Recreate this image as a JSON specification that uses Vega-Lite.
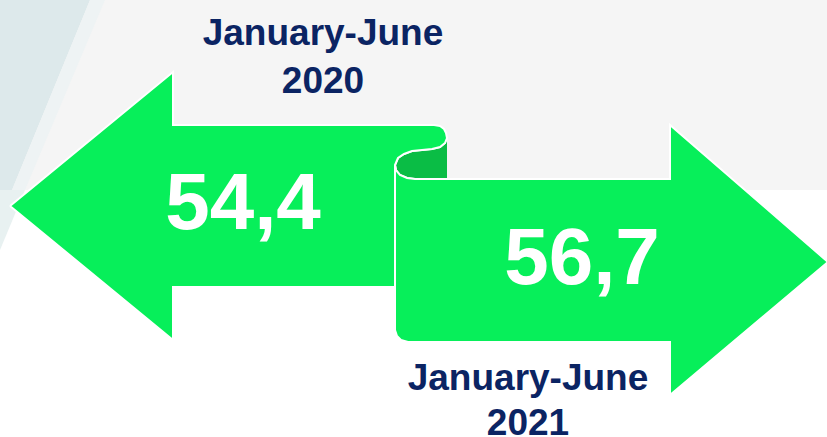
{
  "$schema": "https://vega.github.io/schema/vega-lite/v6.json",
  "width": 827,
  "height": 437,
  "autosize": {"type": "none"},
  "padding": 0,
  "background": "#ffffff",
  "config": {"view": {"stroke": null}},
  "datasets": {
    "shapes": [
      {"shape": "gray", "i": 0, "x": 0, "y": 0},
      {"shape": "gray", "i": 1, "x": 827, "y": 0},
      {"shape": "gray", "i": 2, "x": 827, "y": 190},
      {"shape": "gray", "i": 3, "x": 0, "y": 190},
      {"shape": "blue", "i": 0, "x": 0, "y": 0},
      {"shape": "blue", "i": 1, "x": 90, "y": 0},
      {"shape": "blue", "i": 2, "x": 12, "y": 190},
      {"shape": "blue", "i": 3, "x": 0, "y": 190},
      {"shape": "band", "i": 0, "x": 90, "y": 0},
      {"shape": "band", "i": 1, "x": 105, "y": 0},
      {"shape": "band", "i": 2, "x": 25, "y": 190},
      {"shape": "band", "i": 3, "x": 12, "y": 190},
      {"shape": "bluelow", "i": 0, "x": 0, "y": 190},
      {"shape": "bluelow", "i": 1, "x": 25, "y": 190},
      {"shape": "bluelow", "i": 2, "x": 0, "y": 250},
      {"shape": "fold", "i": 0, "x": 447, "y": 138},
      {"shape": "fold", "i": 1, "x": 445, "y": 143},
      {"shape": "fold", "i": 2, "x": 440, "y": 147},
      {"shape": "fold", "i": 3, "x": 432, "y": 149},
      {"shape": "fold", "i": 4, "x": 422, "y": 150},
      {"shape": "fold", "i": 5, "x": 412, "y": 151},
      {"shape": "fold", "i": 6, "x": 404, "y": 154},
      {"shape": "fold", "i": 7, "x": 398, "y": 158},
      {"shape": "fold", "i": 8, "x": 395, "y": 165},
      {"shape": "fold", "i": 9, "x": 396, "y": 170},
      {"shape": "fold", "i": 10, "x": 400, "y": 175},
      {"shape": "fold", "i": 11, "x": 407, "y": 178},
      {"shape": "fold", "i": 12, "x": 415, "y": 179},
      {"shape": "fold", "i": 13, "x": 447, "y": 179},
      {"shape": "left", "i": 0, "x": 10, "y": 206},
      {"shape": "left", "i": 1, "x": 173, "y": 72},
      {"shape": "left", "i": 2, "x": 173, "y": 125},
      {"shape": "left", "i": 3, "x": 434, "y": 125},
      {"shape": "left", "i": 4, "x": 440, "y": 126},
      {"shape": "left", "i": 5, "x": 444, "y": 129},
      {"shape": "left", "i": 6, "x": 446, "y": 133},
      {"shape": "left", "i": 7, "x": 447, "y": 138},
      {"shape": "left", "i": 8, "x": 445, "y": 143},
      {"shape": "left", "i": 9, "x": 440, "y": 147},
      {"shape": "left", "i": 10, "x": 432, "y": 149},
      {"shape": "left", "i": 11, "x": 422, "y": 150},
      {"shape": "left", "i": 12, "x": 412, "y": 151},
      {"shape": "left", "i": 13, "x": 404, "y": 154},
      {"shape": "left", "i": 14, "x": 398, "y": 158},
      {"shape": "left", "i": 15, "x": 395, "y": 165},
      {"shape": "left", "i": 16, "x": 395, "y": 287},
      {"shape": "left", "i": 17, "x": 173, "y": 287},
      {"shape": "left", "i": 18, "x": 173, "y": 340},
      {"shape": "left", "i": 19, "x": 10, "y": 206},
      {"shape": "right", "i": 0, "x": 395, "y": 165},
      {"shape": "right", "i": 1, "x": 396, "y": 170},
      {"shape": "right", "i": 2, "x": 400, "y": 175},
      {"shape": "right", "i": 3, "x": 407, "y": 178},
      {"shape": "right", "i": 4, "x": 415, "y": 179},
      {"shape": "right", "i": 5, "x": 670, "y": 179},
      {"shape": "right", "i": 6, "x": 670, "y": 125},
      {"shape": "right", "i": 7, "x": 828, "y": 262},
      {"shape": "right", "i": 8, "x": 670, "y": 395},
      {"shape": "right", "i": 9, "x": 670, "y": 342},
      {"shape": "right", "i": 10, "x": 408, "y": 342},
      {"shape": "right", "i": 11, "x": 401, "y": 340},
      {"shape": "right", "i": 12, "x": 397, "y": 336},
      {"shape": "right", "i": 13, "x": 395, "y": 330},
      {"shape": "right", "i": 14, "x": 395, "y": 165}
    ],
    "labels": [
      {"t": "January-June", "x": 323, "y": 45, "kind": "period"},
      {"t": "2020", "x": 323, "y": 93, "kind": "period"},
      {"t": "January-June", "x": 528, "y": 390, "kind": "period"},
      {"t": "2021", "x": 528, "y": 435, "kind": "period"},
      {"t": "54,4", "x": 243, "y": 229, "kind": "value"},
      {"t": "56,7", "x": 582, "y": 284, "kind": "value"}
    ]
  },
  "encoding": {
    "x": {"field": "x", "type": "quantitative", "scale": {"domain": [0, 827], "nice": false, "zero": false}, "axis": null},
    "y": {"field": "y", "type": "quantitative", "scale": {"domain": [0, 437], "nice": false, "zero": false, "reverse": true}, "axis": null}
  },
  "layer": [
    {
      "data": {"name": "shapes"},
      "transform": [{"filter": "datum.shape === 'gray'"}],
      "mark": {"type": "line", "fill": "#f5f5f5", "strokeOpacity": 0, "interpolate": "linear"},
      "encoding": {"order": {"field": "i", "type": "quantitative"}}
    },
    {
      "data": {"name": "shapes"},
      "transform": [{"filter": "datum.shape === 'blue'"}],
      "mark": {"type": "line", "fill": "#dde9eb", "strokeOpacity": 0, "interpolate": "linear"},
      "encoding": {"order": {"field": "i", "type": "quantitative"}}
    },
    {
      "data": {"name": "shapes"},
      "transform": [{"filter": "datum.shape === 'band'"}],
      "mark": {"type": "line", "fill": "#eef3f4", "strokeOpacity": 0, "interpolate": "linear"},
      "encoding": {"order": {"field": "i", "type": "quantitative"}}
    },
    {
      "data": {"name": "shapes"},
      "transform": [{"filter": "datum.shape === 'bluelow'"}],
      "mark": {"type": "line", "fill": "#e8f1f1", "strokeOpacity": 0, "interpolate": "linear"},
      "encoding": {"order": {"field": "i", "type": "quantitative"}}
    },
    {
      "data": {"name": "shapes"},
      "transform": [{"filter": "datum.shape === 'fold'"}],
      "mark": {"type": "line", "fill": "#0abd45", "stroke": "#ffffff", "strokeWidth": 2, "interpolate": "linear"},
      "encoding": {"order": {"field": "i", "type": "quantitative"}}
    },
    {
      "data": {"name": "shapes"},
      "transform": [{"filter": "datum.shape === 'left'"}],
      "mark": {"type": "line", "fill": "#07ef5a", "stroke": "#ffffff", "strokeWidth": 2, "strokeJoin": "miter", "interpolate": "linear"},
      "encoding": {"order": {"field": "i", "type": "quantitative"}}
    },
    {
      "data": {"name": "shapes"},
      "transform": [{"filter": "datum.shape === 'right'"}],
      "mark": {"type": "line", "fill": "#07ef5a", "stroke": "#ffffff", "strokeWidth": 2, "strokeJoin": "miter", "interpolate": "linear"},
      "encoding": {"order": {"field": "i", "type": "quantitative"}}
    },
    {
      "data": {"name": "labels"},
      "transform": [{"filter": "datum.kind === 'period'"}],
      "mark": {"type": "text", "font": "Liberation Sans", "fontWeight": "bold", "fontSize": 37, "fill": "#0b2463", "align": "center", "baseline": "alphabetic"},
      "encoding": {"text": {"field": "t"}}
    },
    {
      "data": {"name": "labels"},
      "transform": [{"filter": "datum.kind === 'value'"}],
      "mark": {"type": "text", "font": "Liberation Sans", "fontWeight": "bold", "fontSize": 80, "fill": "#ffffff", "align": "center", "baseline": "alphabetic"},
      "encoding": {"text": {"field": "t"}}
    }
  ]
}
